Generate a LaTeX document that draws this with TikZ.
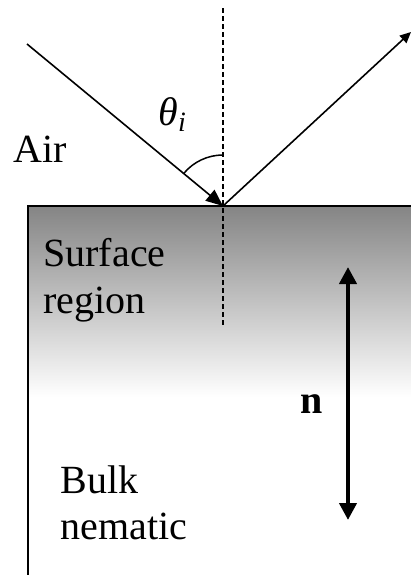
\documentclass[tikz,border=0pt]{standalone}
\usepackage{fontspec}
\setmainfont{Liberation Serif}
\usetikzlibrary{arrows.meta}
\begin{document}
\begin{tikzpicture}[x=0.5pt,y=0.5pt,
    ray/.style={line width=0.8pt},
    label/.style={font=\fontsize{20}{23}\selectfont, inner sep=0pt, anchor=base west}]
  \useasboundingbox (0,0) rectangle (411,575);
  \clip (0,0) rectangle (411,575);

  % Liquid crystal with surface region
  \shade[top color=black!48, bottom color=white] (28,178) rectangle (411,369);
  \draw[line width=1pt] (28,0) -- (28,369) -- (411,369);

  % Normal to the surface
  \coordinate (hit) at (223,369);
  \coordinate (ntop) at (223,567);
  \coordinate (nbot) at (223,250);
  \draw[line width=0.7pt, dash pattern=on 2.5pt off 1.5pt] (ntop) -- (nbot);

  % Incident and reflected beams
  \coordinate (src) at (27,531);
  \coordinate (out) at (411,543);
  \draw[ray, -{Triangle[length=8.5pt, width=7pt]}] (src) -- (hit);
  \draw[ray, -{Triangle[length=5.5pt, width=5pt]}] (hit) -- (out);
  \draw[line width=0.75pt] (hit) ++(90:51) arc[start angle=90, end angle=140.4, radius=51];
  \node[label] (theta) at (158,450) {\itshape θ\textsubscript{i}};

  % Labels
  \node[label] (air) at (13,413) {Air};
  \node[label] (surf) at (43,308) {Surface};
  \node[label] (reg) at (43,262) {region};
  \node[label] (bulk) at (60,82) {Bulk};
  \node[label] (nem) at (60,36) {nematic};

  % Director
  \coordinate (dtop) at (348,308);
  \coordinate (dbot) at (348,55);
  \draw[line width=2pt, {Triangle[length=8.5pt, width=8.5pt]}-{Triangle[length=8.5pt, width=8.5pt]}] (dtop) -- (dbot);
  \node[label] (dir) at (300,162) {\textbf{n}};
\end{tikzpicture}
\end{document}
